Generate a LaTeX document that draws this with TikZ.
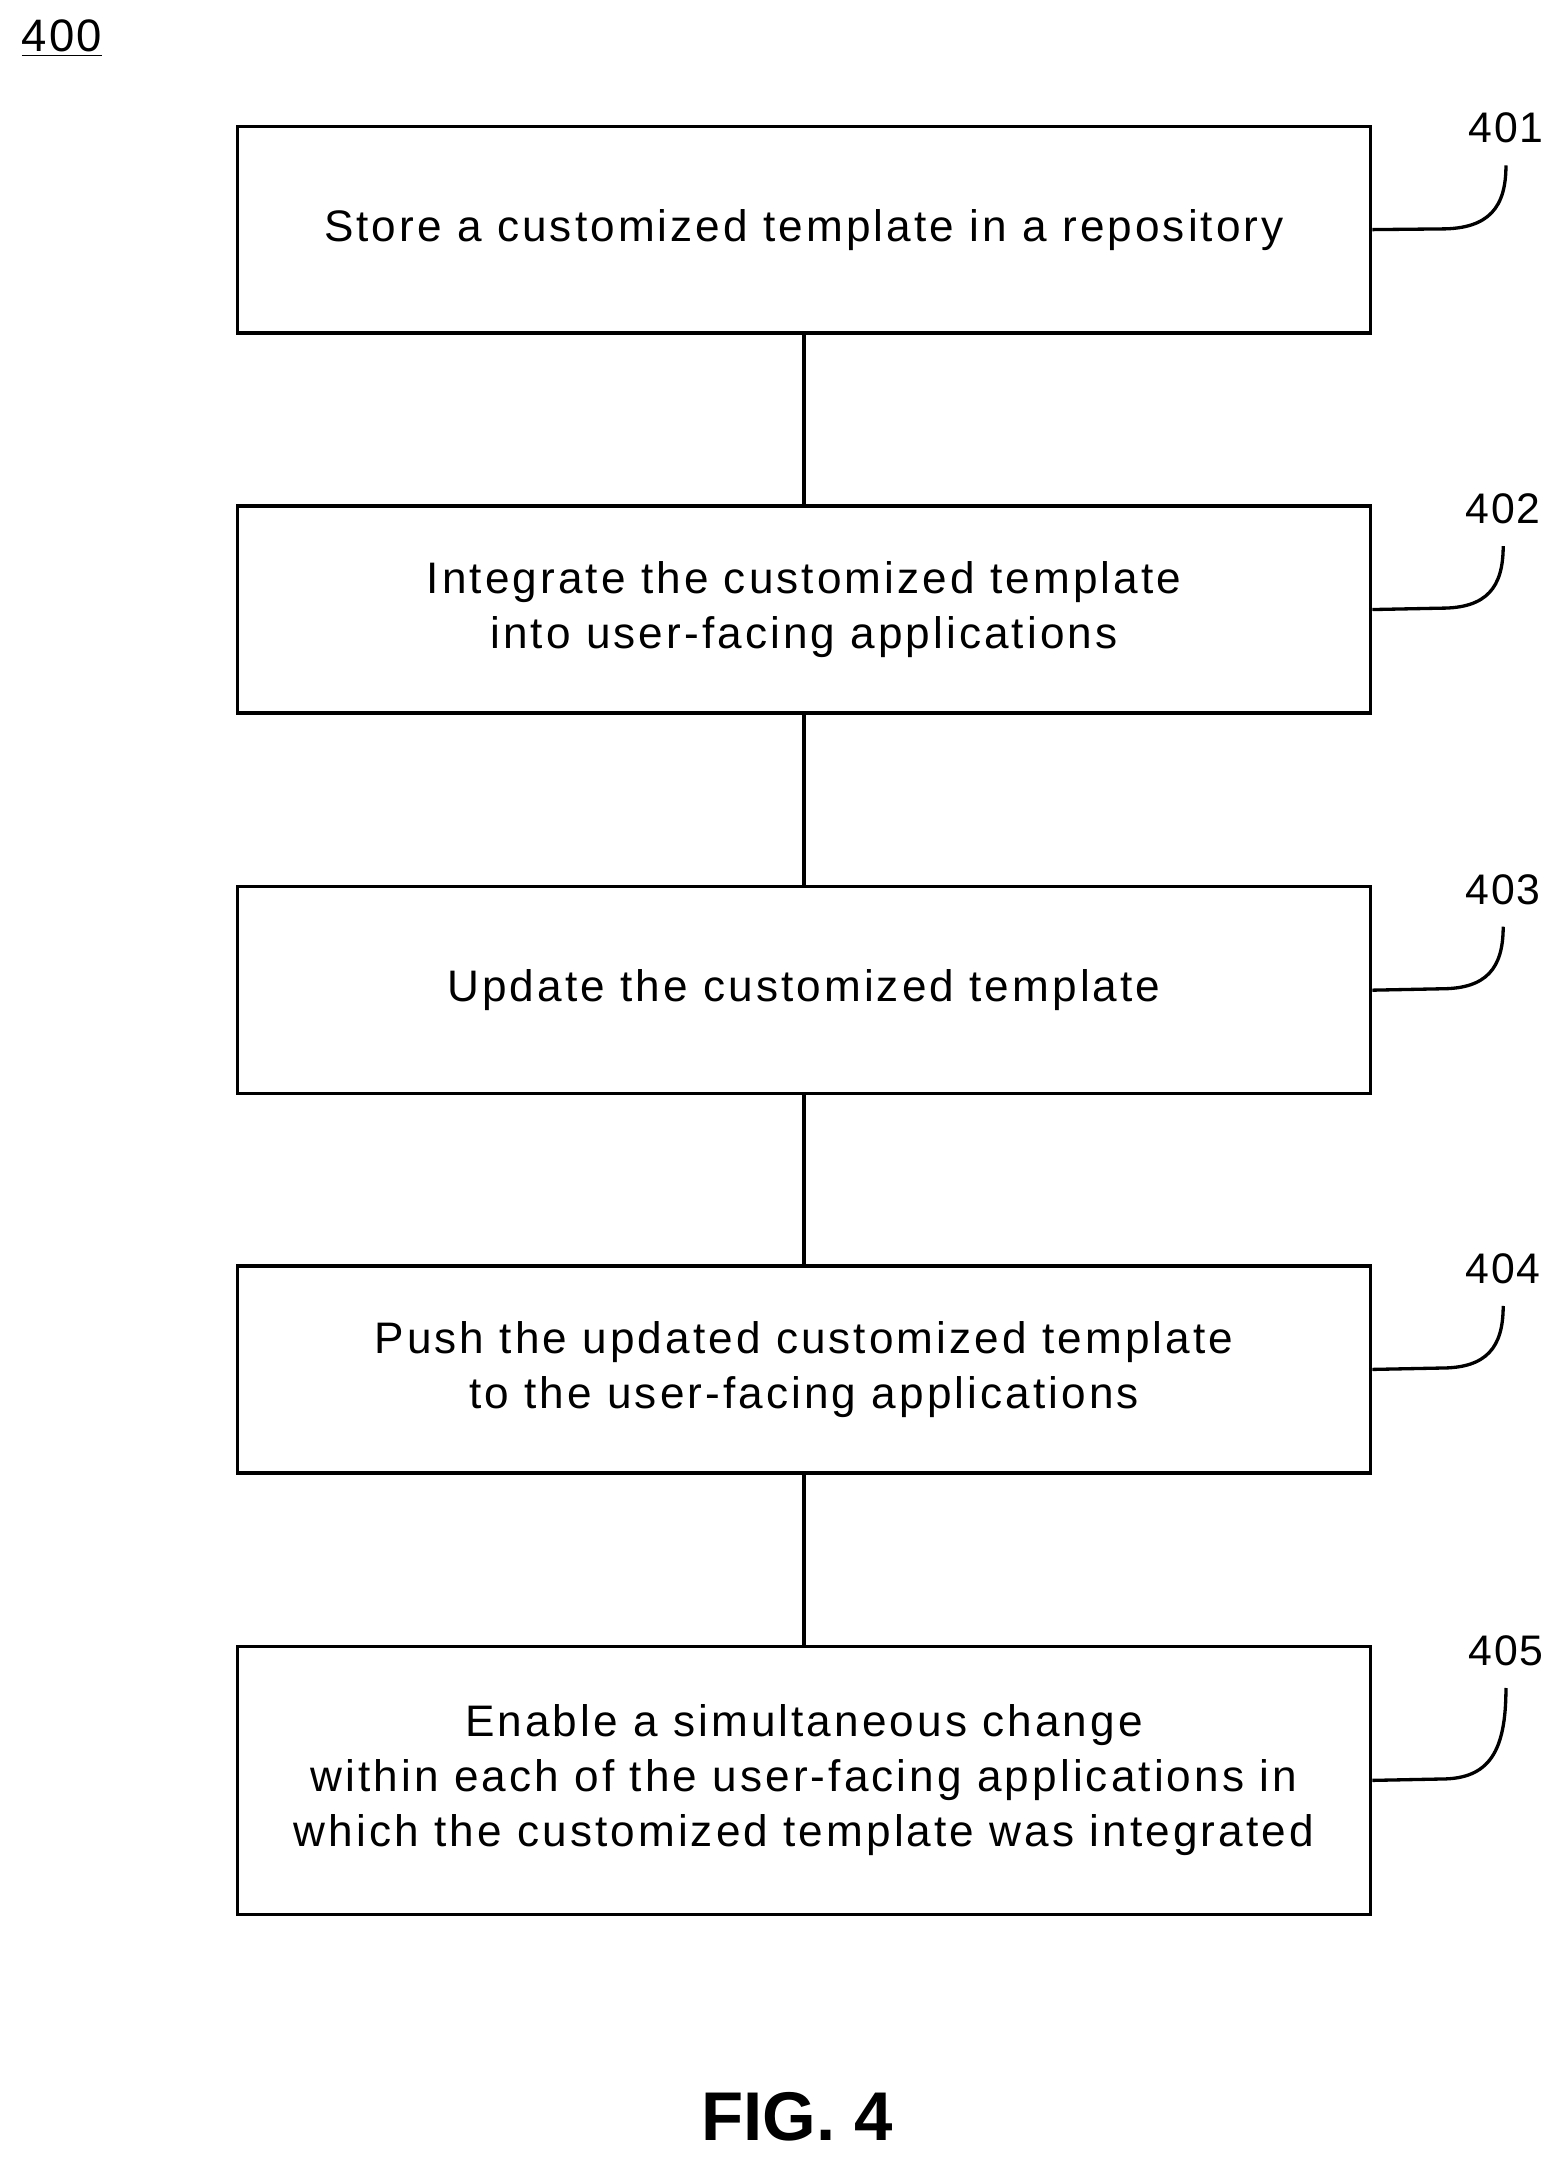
\documentclass[tikz,border=0pt]{standalone}
\usepackage{fontspec}
\setmainfont{Liberation Sans}
\begin{document}
\begin{tikzpicture}[x=0.5pt,y=-0.5pt,
  box/.style={draw,line width=1.2pt,minimum width=411pt,align=center,font=\fontsize{16}{20}\selectfont\addfontfeature{LetterSpace=7},inner sep=0},
  lbl/.style={font=\fontsize{15.5}{18}\selectfont\addfontfeature{LetterSpace=4}},
  lead/.style={line width=1.2pt},
  conn/.style={line width=1.2pt}]
\useasboundingbox (0,0) rectangle (1136,1567);
\node[lbl,font=\fontsize{16.5}{18}\selectfont\addfontfeature{LetterSpace=5}] (t400) at (45,28) {\underline{400}};
\node[box,minimum height=75pt] (b1) at (583,166.5) {Store a customized template in a repository};
\node[box,minimum height=75pt] (b2) at (583,442) {Integrate the customized template\\into user-facing applications};
\node[box,minimum height=75pt] (b3) at (583,718) {Update the customized template};
\node[box,minimum height=75pt] (b4) at (583,993) {Push the updated customized template\\to the user-facing applications};
\node[box,minimum height=97pt] (b5) at (583,1291) {Enable a simultaneous change\\within each of the user-facing applications in\\which the customized template was integrated};
\draw[conn] (b1) -- (b2);
\draw[conn] (b2) -- (b3);
\draw[conn] (b3) -- (b4);
\draw[conn] (b4) -- (b5);
\node[lbl] (l1) at (1092,93) {401};
\node[lbl] (l2) at (1090,369) {402};
\node[lbl] (l3) at (1090,645) {403};
\node[lbl] (l4) at (1090,920) {404};
\node[lbl] (l5) at (1092,1197) {405};
\draw[lead] (b1.east) -- (1045,166) .. controls (1080,166) and (1092,150) .. (1092,120);
\draw[lead] (b2.east) -- (1045,441) .. controls (1078,441) and (1090,426) .. (1090,396);
\draw[lead] (b3.east) -- (1045,717) .. controls (1078,717) and (1090,702) .. (1090,672);
\draw[lead] (b4.east) -- (1045,992) .. controls (1078,992) and (1090,977) .. (1090,947);
\draw[lead] (b5.east) -- (1045,1290) .. controls (1080,1290) and (1092,1270) .. (1092,1224);
\node[font=\fontsize{25}{30}\selectfont\bfseries] (fig) at (578,1535) {FIG. 4};
\end{tikzpicture}
\end{document}
